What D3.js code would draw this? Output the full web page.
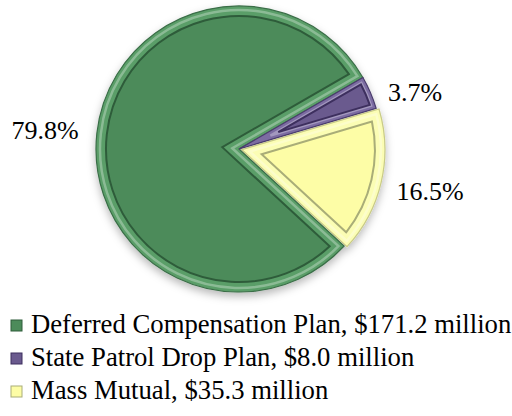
<!DOCTYPE html>
<html><head><meta charset="utf-8">
<script src="https://cdn.jsdelivr.net/npm/d3@7"></script>
<style>body{margin:0;background:#fff}svg{display:block}</style>
</head><body>
<svg id="c" width="512" height="416"></svg>
<script>
const categories = ["Deferred Compensation Plan", "State Patrol Drop Plan", "Mass Mutual"];
const amounts = [171.2, 8.0, 35.3];
const percentLabels = ["79.8%", "3.7%", "16.5%"];
const legendLabels = ["Deferred Compensation Plan, $171.2 million", "State Patrol Drop Plan, $8.0 million", "Mass Mutual, $35.3 million"];
const baseColors = ["#4c8b5a", "#6a5a8e", "#fdfda6"];
const bandColors = ["#5a9e68", "#7c6ca2", "#fbfdb4"];
const lineColors = ["#2e5c3a", "#3d2f5e", "#a9ad78"];
const edgeColors = ["#3a6e47", "#4a3c6c", "#c9cb86"];
const explode = [0, 0, 3];
const FONT = '"Liberation Serif"';

const svg = d3.select("#c");
const cx = 239, cy = 149, R = 143, inset = 10;
const startDeg = 132.7;
const pie = d3.pie().sort(null).value(d => d)
  .startAngle(startDeg * Math.PI / 180).endAngle((startDeg + 360) * Math.PI / 180);
const arcs = pie(amounts);

const defs = svg.append("defs");
const f = defs.append("filter").attr("id", "sh").attr("x", "-20%").attr("y", "-20%").attr("width", "140%").attr("height", "140%");
f.append("feDropShadow").attr("dx", 0).attr("dy", 4).attr("stdDeviation", 4).attr("flood-color", "#000").attr("flood-opacity", 0.28);

function wedgePath(a0, a1, r, k) {
  const h = (a1 - a0) / 2, mid = (a0 + a1) / 2;
  const p = d3.path();
  const s = Math.abs(Math.sin(h));
  const off = k > 0 ? k / s : 0;
  const ax = off * Math.sin(mid), ay = -off * Math.cos(mid);
  const rr = r - k;
  const d = k > 0 ? Math.asin(Math.min(1, k / rr)) : 0;
  const b0 = a0 + d, b1 = a1 - d;
  p.moveTo(ax, ay);
  p.lineTo(rr * Math.sin(b0), -rr * Math.cos(b0));
  p.arc(0, 0, rr, b0 - Math.PI / 2, b1 - Math.PI / 2, false);
  p.closePath();
  return p.toString();
}

const g = svg.append("g").attr("transform", `translate(${cx},${cy})`);
const shadowG = g.append("g").attr("filter", "url(#sh)");
arcs.forEach((a, i) => {
  const mid = (a.startAngle + a.endAngle) / 2;
  const tx = explode[i] * Math.sin(mid), ty = -explode[i] * Math.cos(mid);
  const sg = shadowG.append("g").attr("transform", `translate(${tx},${ty})`);
  sg.append("path").attr("d", wedgePath(a.startAngle, a.endAngle, R, 0))
    .attr("fill", bandColors[i]).attr("stroke", edgeColors[i]).attr("stroke-width", 1.2);
});
arcs.forEach((a, i) => {
  const mid = (a.startAngle + a.endAngle) / 2;
  const tx = explode[i] * Math.sin(mid), ty = -explode[i] * Math.cos(mid);
  const sg = g.append("g").attr("transform", `translate(${tx},${ty})`);
  sg.append("path").attr("d", wedgePath(a.startAngle, a.endAngle, R, 4))
    .attr("fill", "none").attr("stroke", "#ffffff").attr("stroke-opacity", 0.3).attr("stroke-width", 2.5);
  const k = i === 1 ? 5 : inset;
  sg.append("path").attr("d", wedgePath(a.startAngle, a.endAngle, R, k))
    .attr("fill", baseColors[i]).attr("stroke", lineColors[i]).attr("stroke-width", 2);
});

const labelPos = [[45, 139], [415, 101], [430, 200]];
svg.append("g").selectAll("text").data(percentLabels).join("text")
  .attr("x", (d, i) => labelPos[i][0]).attr("y", (d, i) => labelPos[i][1])
  .attr("text-anchor", "middle").style("font-family", FONT)
  .attr("font-size", 26).attr("fill", "#000").text(d => d);

const lg = svg.append("g");
const rowY = d3.scalePoint().domain(categories).range([333, 399]);
categories.forEach((c, i) => {
  const y = rowY(c);
  lg.append("rect").attr("x", 11).attr("y", y - 13).attr("width", 11).attr("height", 11)
    .attr("fill", baseColors[i]).attr("stroke", lineColors[i]).attr("stroke-width", 1);
  lg.append("text").attr("x", 31).attr("y", y).style("font-family", FONT)
    .attr("font-size", 26.7).attr("fill", "#000").text(legendLabels[i]);
});
</script>
</body></html>
